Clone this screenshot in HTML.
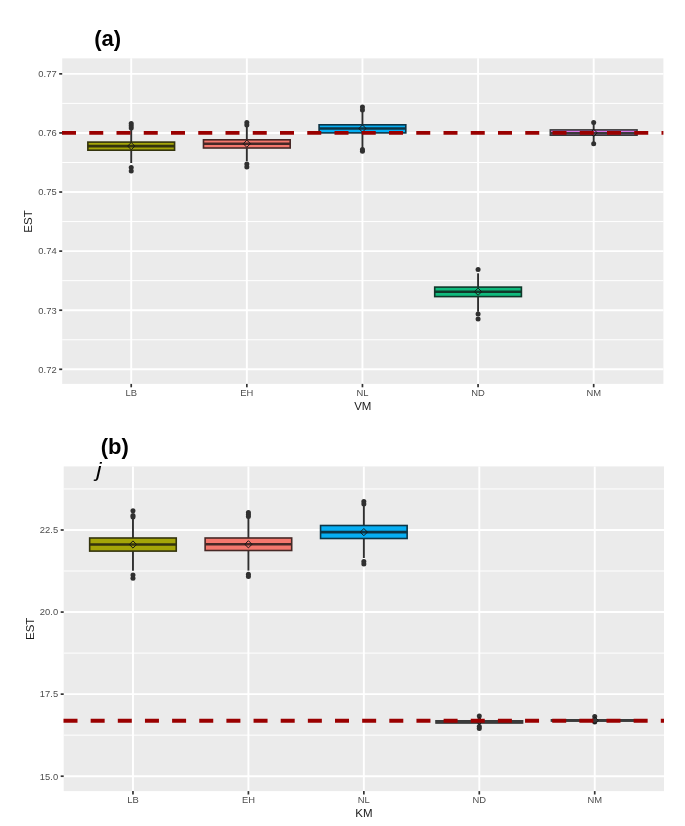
<!DOCTYPE html>
<html><head><meta charset="utf-8"><title>chart</title>
<style>
html,body{margin:0;padding:0;background:#fff;}
body{width:685px;height:826px;overflow:hidden;}
svg{display:block;will-change:transform}
text{font-family:"Liberation Sans",sans-serif;}
.at{font-size:9.4px;fill:#4d4d4d;}
.ti{font-size:11.5px;fill:#1a1a1a;}
.tt{font-size:22px;font-weight:bold;fill:#000;}
.jj{font-size:20px;font-style:italic;fill:#000;}
</style></head><body>
<svg width="685" height="826" viewBox="0 0 685 826">
<rect width="685" height="826" fill="#fff"/>
<rect x="62.20" y="58.35" width="601.20" height="325.55" fill="#EBEBEB"/>
<line x1="62.20" x2="663.40" y1="44.30" y2="44.30" stroke="#fff" stroke-width="1"/>
<line x1="62.20" x2="663.40" y1="103.39" y2="103.39" stroke="#fff" stroke-width="1"/>
<line x1="62.20" x2="663.40" y1="162.49" y2="162.49" stroke="#fff" stroke-width="1"/>
<line x1="62.20" x2="663.40" y1="221.58" y2="221.58" stroke="#fff" stroke-width="1"/>
<line x1="62.20" x2="663.40" y1="280.66" y2="280.66" stroke="#fff" stroke-width="1"/>
<line x1="62.20" x2="663.40" y1="339.75" y2="339.75" stroke="#fff" stroke-width="1"/>
<line x1="62.20" x2="663.40" y1="73.85" y2="73.85" stroke="#fff" stroke-width="1.9"/>
<line x1="62.20" x2="663.40" y1="132.94" y2="132.94" stroke="#fff" stroke-width="1.9"/>
<line x1="62.20" x2="663.40" y1="192.03" y2="192.03" stroke="#fff" stroke-width="1.9"/>
<line x1="62.20" x2="663.40" y1="251.12" y2="251.12" stroke="#fff" stroke-width="1.9"/>
<line x1="62.20" x2="663.40" y1="310.21" y2="310.21" stroke="#fff" stroke-width="1.9"/>
<line x1="62.20" x2="663.40" y1="369.30" y2="369.30" stroke="#fff" stroke-width="1.9"/>
<line x1="131.22" x2="131.22" y1="58.35" y2="383.90" stroke="#fff" stroke-width="1.9"/>
<line x1="246.83" x2="246.83" y1="58.35" y2="383.90" stroke="#fff" stroke-width="1.9"/>
<line x1="362.45" x2="362.45" y1="58.35" y2="383.90" stroke="#fff" stroke-width="1.9"/>
<line x1="478.07" x2="478.07" y1="58.35" y2="383.90" stroke="#fff" stroke-width="1.9"/>
<line x1="593.68" x2="593.68" y1="58.35" y2="383.90" stroke="#fff" stroke-width="1.9"/>
<line x1="131.22" x2="131.22" y1="128.00" y2="163.00" stroke="#2e2e2e" stroke-width="1.9"/>
<circle cx="131.22" cy="123.50" r="2.5" fill="#303030"/>
<circle cx="131.22" cy="125.80" r="2.5" fill="#303030"/>
<circle cx="131.22" cy="127.90" r="2.5" fill="#303030"/>
<circle cx="131.22" cy="167.60" r="2.5" fill="#303030"/>
<circle cx="131.22" cy="171.10" r="2.5" fill="#303030"/>
<rect x="87.86" y="142.10" width="86.71" height="8.10" fill="#A4A508" stroke="#33330d" stroke-width="1.6"/>
<line x1="87.86" x2="174.57" y1="146.10" y2="146.10" stroke="#33330d" stroke-width="2.6"/>
<path d="M131.22 142.50 L134.82 146.10 L131.22 149.70 L127.62 146.10 Z" fill="none" stroke="#161616" stroke-width="1"/>
<line x1="246.83" x2="246.83" y1="125.00" y2="161.20" stroke="#2e2e2e" stroke-width="1.9"/>
<circle cx="246.83" cy="122.60" r="2.5" fill="#303030"/>
<circle cx="246.83" cy="125.00" r="2.5" fill="#303030"/>
<circle cx="246.83" cy="164.00" r="2.5" fill="#303030"/>
<circle cx="246.83" cy="167.10" r="2.5" fill="#303030"/>
<rect x="203.48" y="139.80" width="86.71" height="8.20" fill="#F4776D" stroke="#462826" stroke-width="1.6"/>
<line x1="203.48" x2="290.19" y1="143.70" y2="143.70" stroke="#462826" stroke-width="2.6"/>
<path d="M246.83 140.10 L250.43 143.70 L246.83 147.30 L243.23 143.70 Z" fill="none" stroke="#161616" stroke-width="1"/>
<line x1="362.45" x2="362.45" y1="110.00" y2="148.00" stroke="#2e2e2e" stroke-width="1.9"/>
<circle cx="362.45" cy="107.00" r="2.5" fill="#303030"/>
<circle cx="362.45" cy="110.00" r="2.5" fill="#303030"/>
<circle cx="362.45" cy="149.50" r="2.5" fill="#303030"/>
<circle cx="362.45" cy="151.30" r="2.5" fill="#303030"/>
<rect x="319.09" y="124.80" width="86.71" height="8.10" fill="#06AEF3" stroke="#0d3546" stroke-width="1.6"/>
<line x1="319.09" x2="405.81" y1="128.50" y2="128.50" stroke="#0d3546" stroke-width="2.6"/>
<path d="M362.45 124.90 L366.05 128.50 L362.45 132.10 L358.85 128.50 Z" fill="none" stroke="#161616" stroke-width="1"/>
<line x1="478.07" x2="478.07" y1="273.30" y2="311.80" stroke="#2e2e2e" stroke-width="1.9"/>
<circle cx="478.07" cy="269.60" r="2.5" fill="#303030"/>
<circle cx="478.07" cy="313.90" r="2.5" fill="#303030"/>
<circle cx="478.07" cy="319.00" r="2.5" fill="#303030"/>
<rect x="434.71" y="287.10" width="86.71" height="9.50" fill="#10BA7D" stroke="#0f382a" stroke-width="1.6"/>
<line x1="434.71" x2="521.42" y1="291.70" y2="291.70" stroke="#0f382a" stroke-width="2.6"/>
<path d="M478.07 288.10 L481.67 291.70 L478.07 295.30 L474.47 291.70 Z" fill="none" stroke="#161616" stroke-width="1"/>
<line x1="593.68" x2="593.68" y1="124.00" y2="142.00" stroke="#2e2e2e" stroke-width="1.9"/>
<circle cx="593.68" cy="122.50" r="2.5" fill="#303030"/>
<circle cx="593.68" cy="143.70" r="2.5" fill="#303030"/>
<rect x="550.32" y="129.90" width="86.71" height="5.30" fill="#D873E8" stroke="#3a3a3a" stroke-width="1.6"/>
<line x1="550.32" x2="637.04" y1="133.30" y2="133.30" stroke="#3a3a3a" stroke-width="2.6"/>
<path d="M593.68 129.20 L597.28 132.80 L593.68 136.40 L590.08 132.80 Z" fill="none" stroke="#161616" stroke-width="1"/>
<line x1="62.00" x2="663.40" y1="132.90" y2="132.90" stroke="#9a0000" stroke-width="3.9" stroke-dasharray="14 13.25"/>
<line x1="59.20" x2="62.20" y1="73.85" y2="73.85" stroke="#333333" stroke-width="1.7"/>
<text x="56.60" y="77.15" text-anchor="end" class="at">0.77</text>
<line x1="59.20" x2="62.20" y1="132.94" y2="132.94" stroke="#333333" stroke-width="1.7"/>
<text x="56.60" y="136.24" text-anchor="end" class="at">0.76</text>
<line x1="59.20" x2="62.20" y1="192.03" y2="192.03" stroke="#333333" stroke-width="1.7"/>
<text x="56.60" y="195.33" text-anchor="end" class="at">0.75</text>
<line x1="59.20" x2="62.20" y1="251.12" y2="251.12" stroke="#333333" stroke-width="1.7"/>
<text x="56.60" y="254.42" text-anchor="end" class="at">0.74</text>
<line x1="59.20" x2="62.20" y1="310.21" y2="310.21" stroke="#333333" stroke-width="1.7"/>
<text x="56.60" y="313.51" text-anchor="end" class="at">0.73</text>
<line x1="59.20" x2="62.20" y1="369.30" y2="369.30" stroke="#333333" stroke-width="1.7"/>
<text x="56.60" y="372.60" text-anchor="end" class="at">0.72</text>
<line x1="131.22" x2="131.22" y1="383.90" y2="387.30" stroke="#333333" stroke-width="1.7"/>
<text x="131.22" y="396.40" text-anchor="middle" class="at">LB</text>
<line x1="246.83" x2="246.83" y1="383.90" y2="387.30" stroke="#333333" stroke-width="1.7"/>
<text x="246.83" y="396.40" text-anchor="middle" class="at">EH</text>
<line x1="362.45" x2="362.45" y1="383.90" y2="387.30" stroke="#333333" stroke-width="1.7"/>
<text x="362.45" y="396.40" text-anchor="middle" class="at">NL</text>
<line x1="478.07" x2="478.07" y1="383.90" y2="387.30" stroke="#333333" stroke-width="1.7"/>
<text x="478.07" y="396.40" text-anchor="middle" class="at">ND</text>
<line x1="593.68" x2="593.68" y1="383.90" y2="387.30" stroke="#333333" stroke-width="1.7"/>
<text x="593.68" y="396.40" text-anchor="middle" class="at">NM</text>
<text x="362.80" y="410.20" text-anchor="middle" class="ti">VM</text>
<text transform="translate(32,221.50) rotate(-90)" text-anchor="middle" class="ti">EST</text>
<rect x="63.70" y="466.40" width="600.30" height="324.70" fill="#EBEBEB"/>
<line x1="63.70" x2="664.00" y1="488.97" y2="488.97" stroke="#fff" stroke-width="1"/>
<line x1="63.70" x2="664.00" y1="571.03" y2="571.03" stroke="#fff" stroke-width="1"/>
<line x1="63.70" x2="664.00" y1="653.11" y2="653.11" stroke="#fff" stroke-width="1"/>
<line x1="63.70" x2="664.00" y1="735.17" y2="735.17" stroke="#fff" stroke-width="1"/>
<line x1="63.70" x2="664.00" y1="530.00" y2="530.00" stroke="#fff" stroke-width="1.9"/>
<line x1="63.70" x2="664.00" y1="612.07" y2="612.07" stroke="#fff" stroke-width="1.9"/>
<line x1="63.70" x2="664.00" y1="694.14" y2="694.14" stroke="#fff" stroke-width="1.9"/>
<line x1="63.70" x2="664.00" y1="776.21" y2="776.21" stroke="#fff" stroke-width="1.9"/>
<line x1="132.97" x2="132.97" y1="466.40" y2="791.10" stroke="#fff" stroke-width="1.9"/>
<line x1="248.41" x2="248.41" y1="466.40" y2="791.10" stroke="#fff" stroke-width="1.9"/>
<line x1="363.85" x2="363.85" y1="466.40" y2="791.10" stroke="#fff" stroke-width="1.9"/>
<line x1="479.29" x2="479.29" y1="466.40" y2="791.10" stroke="#fff" stroke-width="1.9"/>
<line x1="594.73" x2="594.73" y1="466.40" y2="791.10" stroke="#fff" stroke-width="1.9"/>
<line x1="132.97" x2="132.97" y1="518.00" y2="570.70" stroke="#2e2e2e" stroke-width="1.9"/>
<circle cx="132.97" cy="510.80" r="2.5" fill="#303030"/>
<circle cx="132.97" cy="515.40" r="2.5" fill="#303030"/>
<circle cx="132.97" cy="517.00" r="2.5" fill="#303030"/>
<circle cx="132.97" cy="575.10" r="2.5" fill="#303030"/>
<circle cx="132.97" cy="578.20" r="2.5" fill="#303030"/>
<rect x="89.67" y="538.00" width="86.58" height="13.10" fill="#A4A508" stroke="#33330d" stroke-width="1.6"/>
<line x1="89.67" x2="176.26" y1="544.50" y2="544.50" stroke="#33330d" stroke-width="2.6"/>
<path d="M132.97 540.90 L136.57 544.50 L132.97 548.10 L129.37 544.50 Z" fill="none" stroke="#161616" stroke-width="1"/>
<line x1="248.41" x2="248.41" y1="518.00" y2="570.60" stroke="#2e2e2e" stroke-width="1.9"/>
<circle cx="248.41" cy="512.40" r="2.5" fill="#303030"/>
<circle cx="248.41" cy="514.60" r="2.5" fill="#303030"/>
<circle cx="248.41" cy="516.60" r="2.5" fill="#303030"/>
<circle cx="248.41" cy="574.20" r="2.5" fill="#303030"/>
<circle cx="248.41" cy="576.60" r="2.5" fill="#303030"/>
<rect x="205.12" y="538.00" width="86.58" height="12.50" fill="#F4776D" stroke="#462826" stroke-width="1.6"/>
<line x1="205.12" x2="291.70" y1="544.30" y2="544.30" stroke="#462826" stroke-width="2.6"/>
<path d="M248.41 540.70 L252.01 544.30 L248.41 547.90 L244.81 544.30 Z" fill="none" stroke="#161616" stroke-width="1"/>
<line x1="363.85" x2="363.85" y1="504.00" y2="558.00" stroke="#2e2e2e" stroke-width="1.9"/>
<circle cx="363.85" cy="501.50" r="2.5" fill="#303030"/>
<circle cx="363.85" cy="503.90" r="2.5" fill="#303030"/>
<circle cx="363.85" cy="561.40" r="2.5" fill="#303030"/>
<circle cx="363.85" cy="563.90" r="2.5" fill="#303030"/>
<rect x="320.56" y="525.50" width="86.58" height="13.00" fill="#06AEF3" stroke="#0d3546" stroke-width="1.6"/>
<line x1="320.56" x2="407.14" y1="532.10" y2="532.10" stroke="#0d3546" stroke-width="2.6"/>
<path d="M363.85 528.50 L367.45 532.10 L363.85 535.70 L360.25 532.10 Z" fill="none" stroke="#161616" stroke-width="1"/>
<line x1="479.29" x2="479.29" y1="716.00" y2="728.00" stroke="#2e2e2e" stroke-width="1.9"/>
<circle cx="479.29" cy="716.00" r="2.5" fill="#303030"/>
<circle cx="479.29" cy="726.50" r="2.5" fill="#303030"/>
<circle cx="479.29" cy="728.50" r="2.5" fill="#303030"/>
<rect x="436.00" y="720.80" width="86.58" height="2.20" fill="#10BA7D" stroke="#3a3a3a" stroke-width="1.6"/>
<line x1="436.00" x2="522.58" y1="721.90" y2="721.90" stroke="#3a3a3a" stroke-width="2.6"/>
<path d="M479.29 717.40 L482.89 721.00 L479.29 724.60 L475.69 721.00 Z" fill="none" stroke="#161616" stroke-width="1"/>
<line x1="594.73" x2="594.73" y1="716.50" y2="722.00" stroke="#2e2e2e" stroke-width="1.9"/>
<circle cx="594.73" cy="716.50" r="2.5" fill="#303030"/>
<circle cx="594.73" cy="722.00" r="2.5" fill="#303030"/>
<rect x="551.44" y="719.80" width="86.58" height="1.20" fill="#D873E8" stroke="#3a3a3a" stroke-width="1.6"/>
<line x1="551.44" x2="638.03" y1="720.40" y2="720.40" stroke="#3a3a3a" stroke-width="2.6"/>
<path d="M594.73 716.80 L598.33 720.40 L594.73 724.00 L591.13 720.40 Z" fill="none" stroke="#161616" stroke-width="1"/>
<line x1="63.50" x2="664.00" y1="720.80" y2="720.80" stroke="#9a0000" stroke-width="3.9" stroke-dasharray="14 13.15"/>
<line x1="60.70" x2="63.70" y1="530.00" y2="530.00" stroke="#333333" stroke-width="1.7"/>
<text x="58.10" y="533.30" text-anchor="end" class="at">22.5</text>
<line x1="60.70" x2="63.70" y1="612.07" y2="612.07" stroke="#333333" stroke-width="1.7"/>
<text x="58.10" y="615.37" text-anchor="end" class="at">20.0</text>
<line x1="60.70" x2="63.70" y1="694.14" y2="694.14" stroke="#333333" stroke-width="1.7"/>
<text x="58.10" y="697.44" text-anchor="end" class="at">17.5</text>
<line x1="60.70" x2="63.70" y1="776.21" y2="776.21" stroke="#333333" stroke-width="1.7"/>
<text x="58.10" y="779.51" text-anchor="end" class="at">15.0</text>
<line x1="132.97" x2="132.97" y1="791.10" y2="794.50" stroke="#333333" stroke-width="1.7"/>
<text x="132.97" y="802.80" text-anchor="middle" class="at">LB</text>
<line x1="248.41" x2="248.41" y1="791.10" y2="794.50" stroke="#333333" stroke-width="1.7"/>
<text x="248.41" y="802.80" text-anchor="middle" class="at">EH</text>
<line x1="363.85" x2="363.85" y1="791.10" y2="794.50" stroke="#333333" stroke-width="1.7"/>
<text x="363.85" y="802.80" text-anchor="middle" class="at">NL</text>
<line x1="479.29" x2="479.29" y1="791.10" y2="794.50" stroke="#333333" stroke-width="1.7"/>
<text x="479.29" y="802.80" text-anchor="middle" class="at">ND</text>
<line x1="594.73" x2="594.73" y1="791.10" y2="794.50" stroke="#333333" stroke-width="1.7"/>
<text x="594.73" y="802.80" text-anchor="middle" class="at">NM</text>
<text x="363.85" y="816.90" text-anchor="middle" class="ti">KM</text>
<text transform="translate(34,628.80) rotate(-90)" text-anchor="middle" class="ti">EST</text>
<text x="94.2" y="45.6" class="tt">(a)</text>
<text x="100.8" y="454" class="tt">(b)</text>
<text transform="translate(96.2,477) scale(1.18,1)" class="jj">j</text>
</svg>
</body></html>
